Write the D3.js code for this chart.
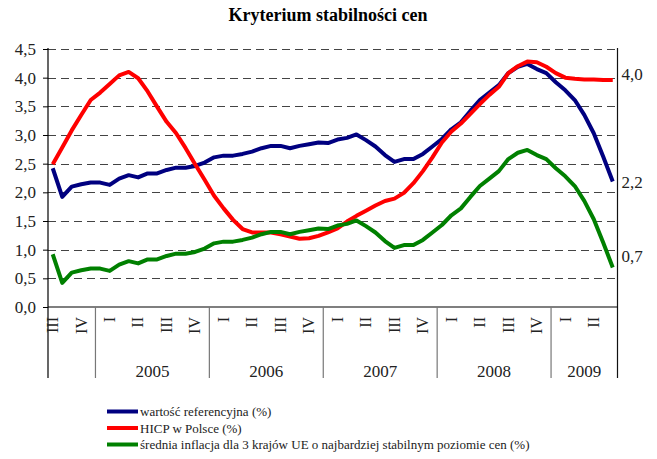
<!DOCTYPE html>
<html>
<head>
<meta charset="utf-8">
<script src="https://cdn.jsdelivr.net/npm/d3@7"></script>
<style>
  body { margin: 0; background: #fff; }
  svg { display: block; }
  svg text { font-family: 'Liberation Serif', 'DejaVu Serif', serif; }
</style>
</head>
<body>
<div id="chart"></div>
<script>
(function () {
  'use strict';

  // dane miesieczne od sierpnia 2004 do lipca 2009
  var firstMonth = [2004, 8];
  var years = ['2005', '2006', '2007', '2008', '2009'];
  var quarterNames = ['I', 'II', 'III', 'IV'];
  var yTicks = [0, 0.5, 1, 1.5, 2, 2.5, 3, 3.5, 4, 4.5];

  var seriesNames = [
    'wartość referencyjna (%)',
    'HICP w Polsce (%)',
    'średnia inflacja dla 3 krajów UE o najbardziej stabilnym poziomie cen (%)'
  ];

  var refValues = [
    2.42, 1.92, 2.10, 2.14, 2.17, 2.17, 2.13, 2.24, 2.30, 2.26, 2.33, 2.33, 2.39, 2.43, 2.43, 2.46,
    2.52, 2.61, 2.64, 2.64, 2.67, 2.71, 2.77, 2.81, 2.81, 2.77, 2.81, 2.84, 2.87, 2.86, 2.92,
    2.95, 3.01, 2.91, 2.80, 2.65, 2.53, 2.58, 2.58, 2.67, 2.80, 2.93, 3.10, 3.22, 3.42,
    3.61, 3.74, 3.87, 4.08, 4.19, 4.24, 4.15, 4.08, 3.92, 3.78, 3.61, 3.35, 3.03, 2.62, 2.19
  ];

  var hicpValues = [
    2.49, 2.78, 3.08, 3.35, 3.61, 3.74, 3.89, 4.04, 4.10, 3.99, 3.76, 3.49, 3.23, 3.03, 2.77, 2.49,
    2.22, 1.94, 1.72, 1.52, 1.36, 1.30, 1.30, 1.30, 1.27, 1.23, 1.19, 1.20, 1.24, 1.30, 1.37,
    1.49, 1.59, 1.68, 1.77, 1.85, 1.89, 1.99, 2.16, 2.37, 2.61, 2.87, 3.06, 3.20, 3.37,
    3.54, 3.70, 3.84, 4.08, 4.20, 4.28, 4.27, 4.19, 4.08, 4.00, 3.98, 3.97, 3.97, 3.96, 3.96
  ];

  var euValues = [
    0.92, 0.42, 0.60, 0.64, 0.67, 0.67, 0.63, 0.74, 0.80, 0.76, 0.83, 0.83, 0.89, 0.93, 0.93, 0.96,
    1.02, 1.11, 1.14, 1.14, 1.17, 1.21, 1.27, 1.31, 1.31, 1.27, 1.31, 1.34, 1.37, 1.36, 1.42,
    1.45, 1.51, 1.41, 1.30, 1.15, 1.03, 1.08, 1.08, 1.17, 1.30, 1.43, 1.60, 1.72, 1.92,
    2.11, 2.24, 2.37, 2.58, 2.69, 2.74, 2.65, 2.58, 2.42, 2.28, 2.11, 1.85, 1.53, 1.12, 0.69
  ];

  var colors = ['#000080', '#ff0000', '#008000'];
  var endLabelShift = [1, -6, -11];

  var width = 657,
  height = 459,
  left = 48,
  right = 617.5,
  top = 49,
  bottom = 307,
  axisFoot = 378,
  serif = "'Liberation Serif', 'DejaVu Serif', serif";

  var months = d3.range(hicpValues.length).map(function (i) {
    var m = firstMonth[1] - 1 + i;
    return { idx: i, year: firstMonth[0] + Math.floor(m / 12), month: m % 12 };
  });

  var series = [refValues, hicpValues, euValues].map(function (vals, s) {
    return { name: seriesNames[s], color: colors[s], values: vals, shift: endLabelShift[s] };
  });

  var x = d3.scaleBand()
  .domain(months.map(function (d) { return d.idx; }))
  .range([left, right])
  .padding(0);

  var y = d3.scaleLinear()
  .domain([0, 4.5])
  .range([bottom, top]);

  var fmt = function (v) { return d3.format('.1f')(v).replace('.', ','); };
  var cx = function (i) { return x(i) + x.bandwidth() / 2; };

  var svg = d3.select('#chart')
  .append('svg')
  .attr('width', width)
  .attr('height', height)
  .attr('font-family', serif);

  svg.append('rect')
  .attr('width', width)
  .attr('height', height)
  .attr('fill', '#fff');

  svg.append('text')
  .attr('x', 328)
  .attr('y', 21)
  .attr('text-anchor', 'middle')
  .attr('font-size', 18)
  .attr('font-weight', 'bold')
  .attr('fill', '#000')
  .text('Kryterium stabilności cen');

  // linie siatki
  svg.append('g')
  .selectAll('line')
  .data(yTicks.filter(function (t) { return t > 0; }))
  .enter()
  .append('line')
  .attr('x1', left)
  .attr('x2', right)
  .attr('y1', function (d) { return Math.round(y(d)) + 0.5; })
  .attr('y2', function (d) { return Math.round(y(d)) + 0.5; })
  .attr('stroke', '#444')
  .attr('stroke-width', 1)
  .attr('stroke-dasharray', '8,5');

  // os Y
  var yAxis = svg.append('g')
  .attr('transform', 'translate(' + left + ',0)')
  .call(d3.axisLeft(y).tickValues(yTicks).tickFormat(fmt).tickSize(5).tickPadding(7));

  yAxis.attr('font-family', serif);
  yAxis.select('.domain').remove();
  yAxis.selectAll('.tick line').attr('stroke', '#000');
  yAxis.selectAll('.tick text')
  .attr('font-size', 17)
  .attr('fill', '#222');

  var frame = svg.append('g').attr('stroke-width', 1.2);

  frame.append('line')
  .attr('x1', left).attr('x2', left)
  .attr('y1', top - 1).attr('y2', axisFoot)
  .attr('stroke', '#000');

  frame.append('line')
  .attr('x1', right).attr('x2', right)
  .attr('y1', top - 1).attr('y2', axisFoot)
  .attr('stroke', '#111');

  frame.append('line')
  .attr('x1', left).attr('x2', right)
  .attr('y1', bottom).attr('y2', bottom)
  .attr('stroke', '#000');

  // podzial na lata
  var yearStarts = years.map(function (yr) {
    var first = months.filter(function (d) { return d.year === +yr; });
    return {
      label: yr,
      x0: x(first[0].idx),
      x1: x(first[first.length - 1].idx) + x.bandwidth()
    };
  });

  frame.selectAll('.year-sep')
  .data(yearStarts)
  .enter()
  .append('line')
  .attr('class', 'year-sep')
  .attr('x1', function (d) { return d.x0; })
  .attr('x2', function (d) { return d.x0; })
  .attr('y1', bottom)
  .attr('y2', axisFoot)
  .attr('stroke', '#777');

  svg.append('g')
  .selectAll('text')
  .data(yearStarts)
  .enter()
  .append('text')
  .attr('x', function (d) { return (d.x0 + d.x1) / 2; })
  .attr('y', 377)
  .attr('text-anchor', 'middle')
  .attr('font-size', 17)
  .attr('fill', '#222')
  .text(function (d) { return d.label; });

  // etykiety kwartalow (srodkowy miesiac kwartalu)
  svg.append('g')
  .selectAll('text')
  .data(months.filter(function (d) { return d.month % 3 === 1; }))
  .enter()
  .append('text')
  .attr('transform', function (d) {
    return 'translate(' + cx(d.idx) + ',317) rotate(-90)';
  })
  .attr('text-anchor', 'end')
  .attr('dy', '0.33em')
  .attr('font-size', 16)
  .attr('fill', '#222')
  .text(function (d) { return quarterNames[Math.floor(d.month / 3)]; });

  // serie
  var line = d3.line()
  .x(function (d, i) { return cx(i); })
  .y(function (d) { return y(d); });

  svg.append('g')
  .selectAll('path')
  .data(series)
  .enter()
  .append('path')
  .attr('d', function (d) { return line(d.values); })
  .attr('fill', 'none')
  .attr('stroke', function (d) { return d.color; })
  .attr('stroke-width', 4)
  .attr('stroke-linejoin', 'round');

  // wartosci koncowe
  svg.append('g')
  .selectAll('text')
  .data(series)
  .enter()
  .append('text')
  .attr('x', right + 4)
  .attr('y', function (d) { return y(d.values[d.values.length - 1]) + d.shift; })
  .attr('dy', '0.35em')
  .attr('font-size', 17)
  .attr('fill', '#222')
  .text(function (d) { return fmt(d.values[d.values.length - 1]); });

  // legenda
  var legend = svg.append('g')
  .selectAll('g')
  .data(series)
  .enter()
  .append('g')
  .attr('transform', function (d, i) { return 'translate(107,' + (411.5 + i * 16.5) + ')'; });

  legend.append('line')
  .attr('x1', 0)
  .attr('x2', 31)
  .attr('stroke', function (d) { return d.color; })
  .attr('stroke-width', 4);

  legend.append('text')
  .attr('x', 33)
  .attr('y', 4.5)
  .attr('font-size', 13)
  .attr('fill', '#222')
  .text(function (d) { return d.name; });
}());
</script>
</body>
</html>
